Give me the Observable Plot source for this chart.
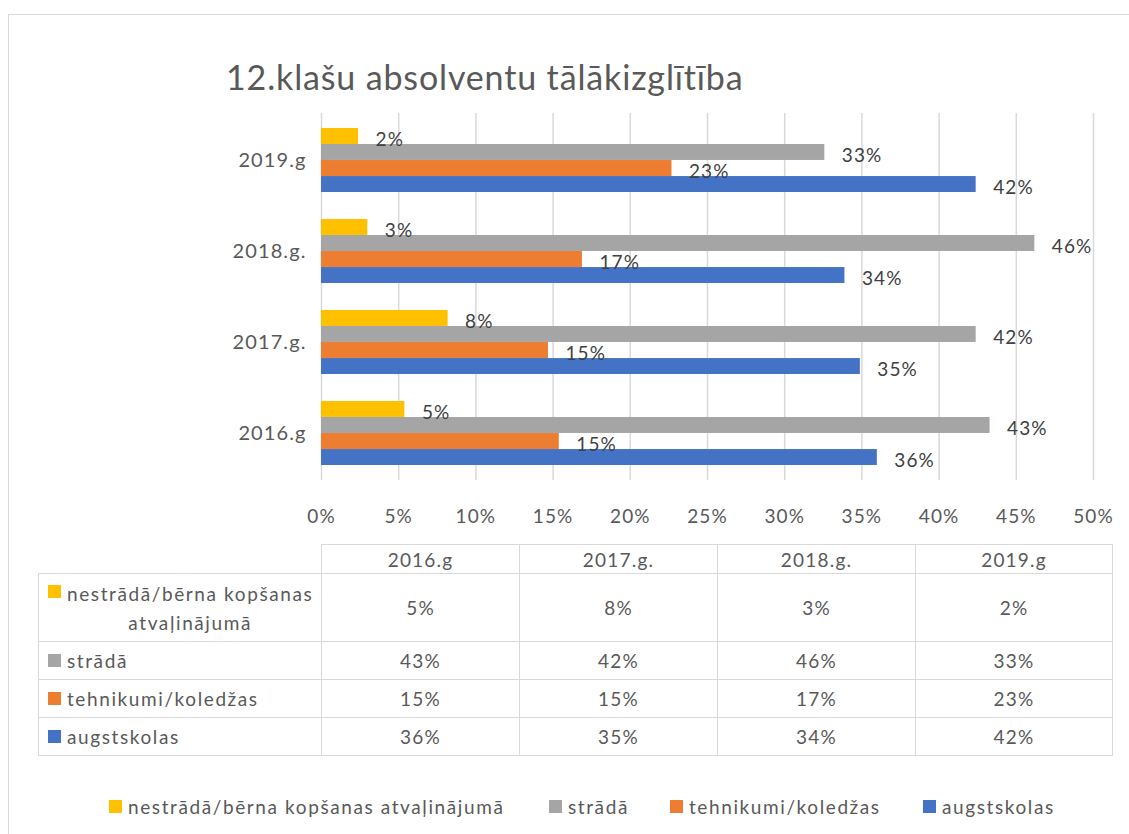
<!DOCTYPE html>
<html>
<head>
<meta charset="utf-8">
<script src="https://cdn.jsdelivr.net/npm/d3@7"></script>
<script src="https://cdn.jsdelivr.net/npm/@observablehq/plot@0.6"></script>
<style>
  html, body { margin: 0; padding: 0; background: #fff; width: 1129px; height: 834px; overflow: hidden; }
  body { position: relative; font-family: Lato, "Open Sans", sans-serif; color: #595959; }
  #frame { position: absolute; left: 8px; top: 14px; width: 1300px; height: 1000px; border: 1.5px solid #D9D9D9; box-sizing: border-box; }
  #title { position: absolute; left: 226px; top: 56px; font-size: 34px; color: #595959; white-space: nowrap; letter-spacing: 0.85px; }
  #chart { position: absolute; left: 0; top: 100px; }
  table { position: absolute; left: 38px; top: 544px; border-collapse: collapse; font-size: 19px; color: #595959; letter-spacing: 1.2px; }
  td, th { border: 1.5px solid #D9D9D9; font-weight: normal; text-align: center; padding: 0; }
  th.blank { border: none; border-right: 1.5px solid #D9D9D9; border-bottom: 1.5px solid #D9D9D9; }
  td.lab { text-align: left; padding-left: 9px; letter-spacing: 1.6px; }
  .key { display: inline-block; width: 13px; height: 13px; margin-right: 6px; vertical-align: 1px; }
  .labwrap { display: flex; align-items: flex-start; }
  .labwrap .key { margin-top: 6px; flex: none; }
  .labwrap span.t { text-align: center; line-height: 29px; }
  #legend { position: absolute; left: 0; top: 795px; width: 1129px; font-size: 19px; color: #595959; letter-spacing: 1.6px; white-space: nowrap; }
  #legend .item { position: absolute; top: 0; }
</style>
</head>
<body>
<div id="frame"></div>
<div id="title">12.klašu absolventu tālākizglītība</div>
<div id="chart"></div>
<table id="tbl"></table>
<div id="legend"></div>
<script>
// ---- data ----
const years = ["2016.g", "2017.g.", "2018.g.", "2019.g"];
const series = ["nestrādā/bērna kopšanas atvaļinājumā", "strādā", "tehnikumi/koledžas", "augstskolas"];
const colors = ["#FFC000", "#A5A5A5", "#ED7D31", "#4472C4"];
const nestrada = [5.4, 8.2, 3.0, 2.4];
const strada = [43.3, 42.4, 46.2, 32.6];
const tehnikumi = [15.4, 14.7, 16.9, 22.7];
const augstskolas = [36.0, 34.9, 33.9, 42.4];
const xTicks = [0, 5, 10, 15, 20, 25, 30, 35, 40, 45, 50];
const legendX = [109, 549, 670, 923];

const seriesValues = [nestrada, strada, tehnikumi, augstskolas];
const fmt = v => Math.round(v) + "%";

// ---- chart ----
const W = 1129, H = 450, mT = 13, mB = 70, mL = 321, mR = 36;
const pIn = 0.3, pOut = 0.155;
const plotH = H - mT - mB;
const band = plotH / (years.length - pIn + 2 * pOut) * (1 - pIn);
const sub = band / series.length;

const barMarks = [], textMarks = [];
series.forEach((s, i) => {
  const rows = years.map((y, j) => ({year: y, value: seriesValues[i][j]}));
  barMarks.push(Plot.barX(rows, {
    y: "year", x: "value", fill: colors[i],
    insetTop: sub * i, insetBottom: sub * (series.length - 1 - i)
  }));
  textMarks.push(Plot.text(rows, {
    y: "year", x: "value", text: d => fmt(d.value),
    textAnchor: "start", dx: 17, dy: (i - 1.5) * sub + 3,
    fill: "#404040", fontSize: 19
  }));
});

const chart = Plot.plot({
  width: W, height: H,
  marginTop: mT, marginBottom: mB, marginLeft: mL, marginRight: mR,
  style: {fontFamily: "Lato, 'Open Sans', sans-serif", fontSize: "19px", color: "#595959", background: "transparent", letterSpacing: "1.1px"},
  x: {domain: [0, 50], ticks: xTicks, tickFormat: d => d + "%", tickSize: 0, tickPadding: 29, label: null},
  y: {domain: years.slice().reverse(), paddingInner: pIn, paddingOuter: pOut, tickSize: 0, tickPadding: 15, label: null},
  marks: [
    Plot.gridX(xTicks, {stroke: "#D9D9D9", strokeOpacity: 1, strokeWidth: 1.5}),
    ...barMarks,
    ...textMarks
  ]
});
chart.querySelectorAll("[aria-label='y-axis tick label'] text").forEach(t => t.style.fontSize = "20px");
document.getElementById("chart").appendChild(chart);

// ---- data table ----
const colW = [283, 198, 198, 198, 197];
const tbl = document.getElementById("tbl");
let html = "<colgroup>" + colW.map(w => `<col style="width:${w}px">`).join("") + "</colgroup>";
html += `<tr style="height:29px"><th class="blank"></th>` + years.map(y => `<th>${y}</th>`).join("") + "</tr>";
series.forEach((s, i) => {
  const h = i === 0 ? 68 : 38;
  let lab;
  if (i === 0) {
    lab = `<div class="labwrap"><span class="key" style="background:${colors[i]}"></span><span class="t">nestrādā/bērna kopšanas<br>atvaļinājumā</span></div>`;
  } else {
    lab = `<span class="key" style="background:${colors[i]}"></span>${s}`;
  }
  html += `<tr style="height:${h}px"><td class="lab">${lab}</td>` + seriesValues[i].map(v => `<td>${fmt(v)}</td>`).join("") + "</tr>";
});
tbl.innerHTML = html;

// ---- legend ----
const leg = document.getElementById("legend");
leg.innerHTML = series.map((s, i) =>
  `<span class="item" style="left:${legendX[i]}px"><span class="key" style="background:${colors[i]}"></span>${s}</span>`
).join("");
</script>
</body>
</html>
